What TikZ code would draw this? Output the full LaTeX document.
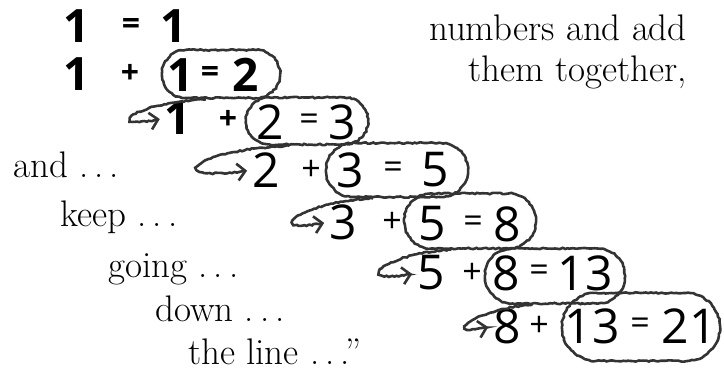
\documentclass[tikz,border=0pt]{standalone}
\usepackage{fontspec}
\newfontfamily\digitfont{Open Sans}
\usetikzlibrary{shapes.geometric,shapes.misc,arrows.meta,decorations.pathmorphing,calc}
\begin{document}
\pgfmathsetseed{7}
\begin{tikzpicture}[x=1pt,y=-1pt,
  txt/.style={font=\fontsize{37}{37}\selectfont, inner sep=0pt},
  dig/.style={font=\digitfont\fontsize{48}{48}\selectfont, inner sep=0pt},
  bdig/.style={font=\digitfont\bfseries\fontsize{46}{46}\selectfont, inner sep=0pt},
  op/.style={font=\digitfont\fontsize{34}{34}\selectfont, inner sep=0pt},
  bop/.style={font=\digitfont\bfseries\fontsize{32}{32}\selectfont, inner sep=0pt},
  hand/.style={line width=2.6pt, draw=black!80, decorate,
    decoration={random steps,segment length=2.5pt,amplitude=0.7pt}},
  loopy/.style={rounded rectangle, hand, inner sep=0pt},
  hook/.style={line width=2.6pt, draw=black!80, decorate,
    decoration={random steps,segment length=2.5pt,amplitude=0.7pt,post length=8pt},
    -{Straight Barb[length=8pt,width=17pt]}, shorten >=5pt}
]
\useasboundingbox (0,0) rectangle (724,377);

% right text
\node[txt, anchor=base east] (t1) at (687,41) {numbers and add};
\node[txt, anchor=base east] (t2) at (687,82) {them together,};
% left text
\node[txt, anchor=base west] (l1) at (13,178) {and~.\,.\,.};
\node[txt, anchor=base west] (l2) at (60,227) {keep~.\,.\,.};
\node[txt, anchor=base west] (l3) at (108,278) {going~.\,.\,.};
\node[txt, anchor=base west] (l4) at (155,322) {down~.\,.\,.};
\node[txt, anchor=base west] (l5) at (188,364) {the line~.\,.\,.”};

% row 0
\node[bdig] (r0a) at (77,26) {1};
\node[bop]  (r0e) at (131,27) {=};
\node[bdig] (r0b) at (174,26) {1};
% row 1
\node[bdig] (r1a) at (77,74) {1};
\node[bop]  (r1p) at (130,74) {+};
\node[bdig] (r1b) at (181,75) {1};
\node[bop]  (r1e) at (210,75) {=};
\node[bdig] (r1c) at (246,75) {2};
% row 2
\node[bdig] (r2a) at (178,118) {1};
\node[bop]  (r2p) at (228,120) {+};
\node[dig]  (r2b) at (270,122) {2};
\node[op]   (r2e) at (309,122) {=};
\node[dig]  (r2c) at (342,122) {3};
% row 3
\node[dig] (r3a) at (266,170) {2};
\node[op]  (r3p) at (311,170) {+};
\node[dig] (r3b) at (350,170) {3};
\node[op]  (r3e) at (393,170) {=};
\node[dig] (r3c) at (435,170) {5};
% row 4
\node[dig] (r4a) at (343,222) {3};
\node[op]  (r4p) at (392,222) {+};
\node[dig] (r4b) at (432,224) {5};
\node[op]  (r4e) at (473,224) {=};
\node[dig] (r4c) at (507,224) {8};
% row 5
\node[dig] (r5a) at (431,273) {5};
\node[op]  (r5p) at (472,273) {+};
\node[dig] (r5b) at (506,273) {8};
\node[op]  (r5e) at (539,273) {=};
\node[dig] (r5c) at (585,273) {13};
% row 6
\node[dig] (r6a) at (507,326) {8};
\node[op]  (r6p) at (539,326) {+};
\node[dig] (r6b) at (592,326) {13};
\node[op]  (r6e) at (640,326) {=};
\node[dig] (r6c) at (689,326) {21};

% loops
\node[loopy, minimum width=118, minimum height=48] (e1) at (221,74) {};
\node[loopy, minimum width=122, minimum height=47] (e2) at (307,121) {};
\node[loopy, minimum width=142, minimum height=54] (e3) at (397,170) {};
\node[loopy, minimum width=132, minimum height=55] (e4) at (470,221) {};
\node[loopy, minimum width=140, minimum height=55] (e5) at (555,276) {};
\node[loopy, minimum width=158, minimum height=68] (e6) at (641,327) {};

% hooks
\draw[hook] (e1.south west) ++(20,0) coordinate (h1) (h1) .. controls +(-80,4) and +(-60,14) .. (r2a.west);
\draw[hook] (e2.south west) ++(20,0) coordinate (h2) (h2) .. controls +(-100,4) and +(-92,14) .. (r3a.west);
\draw[hook] (e3.south west) ++(20,0) coordinate (h3) (h3) .. controls +(-77,4) and +(-70,14) .. (r4a.west);
\draw[hook] (e4.south west) ++(20,0) coordinate (h4) (h4) .. controls +(-72,4) and +(-68,14) .. (r5a.west);
\draw[hook] (e5.south west) ++(20,0) coordinate (h5) (h5) .. controls +(-60,4) and +(-57,14) .. (r6a.west);
\end{tikzpicture}
\end{document}
